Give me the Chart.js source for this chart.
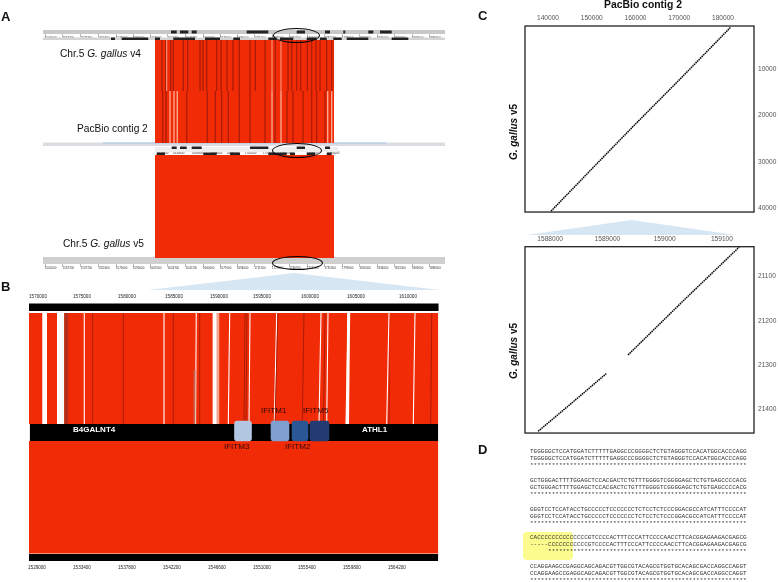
<!DOCTYPE html>
<html lang="en">
<head>
    <meta charset="UTF-8">
    <title>Chicken IFITM locus alignments</title>
    <style>
        html, body { margin: 0; padding: 0; background: #fff; overflow: hidden; }
        #page { position: absolute; left: 0; top: 0; width: 778px; height: 582px; overflow: hidden; filter: blur(0.35px); font-family: "Liberation Sans", Arial, sans-serif; color: #111; }
        #page canvas, .box { position: absolute; }
        .txt { position: absolute; white-space: nowrap; line-height: 1; }
        .panel { font-size: 13px; font-weight: bold; }
        .tri { position: absolute; background: #d6e6f3; clip-path: polygon(50% 0, 100% 100%, 0 100%); }
        .oval { position: absolute; border: 1.6px solid #000; border-radius: 50%; box-sizing: border-box; }
        .gene { font-size: 8px; color: #2b0a08; }
        .seq { position: absolute; left: 530px; font: 6.03px/7px "Liberation Mono", monospace; white-space: pre; color: #333; }
        .rot { position: absolute; white-space: nowrap; font-size: 10px; font-weight: bold; line-height: 1; transform: translate(-50%, -50%) rotate(-90deg); }
    </style>
</head>
<body>
<div id="page">
    <!-- panel A -->
    <div class="txt panel" style="left:1px;top:10px">A</div>
    <canvas id="chartA" width="402" height="248" style="left:43px;top:25px"></canvas>
    <div class="txt" style="left:60px;top:49px;font-size:10.2px">Chr.5 <i>G. gallus</i> v4</div>
    <div class="txt" style="left:77px;top:124px;font-size:10.2px">PacBio contig 2</div>
    <div class="txt" style="left:63px;top:239px;font-size:10.2px">Chr.5 <i>G. gallus</i> v5</div>
    <div class="oval" style="left:273px;top:28px;width:47px;height:15px"></div>
    <div class="oval" style="left:272px;top:143px;width:50px;height:15px"></div>
    <div class="oval" style="left:272px;top:256px;width:51px;height:14px"></div>
    <div class="tri" style="left:148px;top:273px;width:292px;height:17px"></div>

    <!-- panel B -->
    <div class="txt panel" style="left:1px;top:280px">B</div>
    <canvas id="chartB" width="430" height="282" style="left:20px;top:290px"></canvas>
    <div class="txt" style="left:73px;top:426px;font-size:8px;font-weight:bold;color:#fff">B4GALNT4</div>
    <div class="txt" style="left:362px;top:426px;font-size:8px;font-weight:bold;color:#fff">ATHL1</div>
    <div class="txt gene" style="left:261px;top:407px">IFITM1</div>
    <div class="txt gene" style="left:303px;top:407px">IFITM5</div>
    <div class="txt gene" style="left:224px;top:443px">IFITM3</div>
    <div class="txt gene" style="left:285px;top:443px">IFITM2</div>

    <!-- panel C -->
    <div class="txt panel" style="left:478px;top:9px">C</div>
    <div class="txt" style="left:604px;top:0px;font-size:10.4px;font-weight:bold">PacBio contig 2</div>
    <canvas id="chartC1" width="263" height="210" style="left:515px;top:10px"></canvas>
    <canvas id="chartC2" width="263" height="211" style="left:515px;top:230px"></canvas>
    <div class="rot" style="left:514px;top:132px"><i>G. gallus</i> v5</div>
    <div class="rot" style="left:514px;top:351px"><i>G. gallus</i> v5</div>
    <div class="tri" style="left:527px;top:220px;width:209px;height:15px"></div>

    <!-- panel D -->
    <div class="txt panel" style="left:478px;top:443px">D</div>
    <div class="box" style="left:523px;top:532px;width:50px;height:28px;background:#fbfb8e;border-radius:4px"></div>
    <div id="seqs"></div>
</div>

<script src="https://cdn.jsdelivr.net/npm/chart.js"></script>
<script>
    // panel A: positions along the window in kb, dark and light stripes
    const aBlock = [112, 291];
    const aDarkUpper = [119, 122.7, 127.7, 130.3, 140.3, 144.7, 157, 160, 163.7, 173.7, 178, 184, 190, 196.3, 207, 212.3, 222, 232.3, 245, 248.7, 253.7, 257.7, 264.3, 268.7, 273, 277, 283.7, 288.7];
    const aLightUpper = [123.7, 229, 238];
    const aDarkLower = [119.7, 123, 143.7, 164.3, 172.3, 178.7, 185.3, 196.3, 207, 222, 232, 244, 250, 260, 268.7, 273.7, 282];
    const aLightLower = [127, 131, 134.3, 229, 238, 284.7, 288.7];
    const aTrack1Top = [[128, 133.7], [137, 145.3], [148.7, 153.7], [203.7, 225.3], [253.7, 262], [282, 287], [300.3, 302.3], [325.3, 330.3], [337, 348.7]];
    const aTrack1Low = [[68, 72], [78.7, 105.3], [112, 117], [130.3, 152], [162, 177], [190.3, 197], [225.3, 233.7], [237, 250.3], [263.7, 273.7], [277, 283.7], [290.3, 298.7], [303.7, 325.3], [348.7, 365.3]];
    const aTrack2Top = [[128.7, 133.7], [137, 143.7], [148.7, 158.7], [207, 225.3], [253.7, 262], [282, 287]];
    const aTrack2Low = [[113.7, 122], [160.3, 173.7], [187, 197], [225.3, 243.7], [247, 252], [263.7, 272], [283.7, 288.7]];
    const aTicks = [2, 19.7, 37.7, 55.3, 73, 90, 107, 124.7, 142.7, 160, 177, 194, 211.5, 229, 246.5, 264, 281.5, 299, 316.5, 334, 351.5, 369, 386.5];
    const aContigTicks = [114, 130, 149, 168, 184, 202, 220, 237, 264, 285];

    // panel B: chromosome position in kb (upper axis)
    const bTopTickPos = [1569.99, 1574.83, 1579.78, 1584.95, 1589.9, 1594.63, 1599.91, 1604.97, 1610.69];
    const bTopTickLabels = ['1570000', '1575000', '1580000', '1585000', '1590000', '1595000', '1600000', '1605000', '1610000'];
    const bLowTicks = [1529, 1533.4, 1537.8, 1542.2, 1546.6, 1551, 1555.4, 1559.8, 1564.2];
    const bGaps = [[1570.46, 1570.98], [1572.08, 1572.88]];
    const bWhiteTop = [1575.08, 1583.85, 1587.4, 1591.08, 1593.31, 1596.25, 1601.12, 1601.89, 1604.12, 1608.6, 1611.46];
    const bWhiteLow = [1575.08, 1583.85, 1587.32, 1590.92, 1593.2, 1595.98, 1600.9, 1601.75, 1603.87, 1608.35, 1611.27];
    const bDarkTop = [1576, 1579.37, 1584.87, 1587.78, 1592.76, 1592.98, 1596.39, 1599.25, 1601.56, 1608.77, 1613.3];
    const bDarkLow = [1576, 1579.37, 1584.87, 1587.78, 1592.65, 1592.87, 1596.06, 1599.06, 1601.4, 1608.6, 1613.19];
    const bWideWhite = [1589.2, 1589.65];
    const bPink = [1589.65, 1589.93];
    const bBrown = [1572.88, 1573.32];
    const geneNames = ['IFITM3', 'IFITM1', 'IFITM2', 'IFITM5'];
    const geneCentres = [1592.54, 1596.61, 1598.81, 1600.95];
    const geneWidths = [17, 18, 16, 19];
    const geneColours = ['#b3c6e2', '#7f9fd0', '#2b5797', '#223b72'];

    // panel C: dot plots
    const c1X = [140700, 150000, 160000, 170000, 181800];
    const c1Y = [40650, 31560, 21840, 12330, 910];
    const c1TopTicks = [140000, 150000, 160000, 170000, 180000];
    const c1SideTicks = [10000, 20000, 30000, 40000];
    const c2XLeft = [158779, 158838, 158898];
    const c2YLeft = [21449, 21385, 21319];
    const c2XRight = [158936, 159034, 159130];
    const c2YRight = [21277, 21153, 21034];
    const c2TopTicks = [158800, 158900, 159000, 159100];
    const c2TopLabels = ['1588000', '1589000', '159000', '159100'];
    const c2SideTicks = [21100, 21200, 21300, 21400];

    // panel D: alignment blocks
    const seqRowsA = [
        'TGGGGGCTCCATGGATCTTTTTGAGGCCCGGGGCTCTGTAGGGTCCACATGGCACCCAGG',
        'GCTGGGACTTTTGGAGCTCCACGACTCTGTTTGGGGTCGGGGAGCTCTGTGAGCCCCACG',
        'GGGTCCTCCATACCTGCCCCCTCCCCCCCTCTCCTCTCCCGGACGCCATCATTTCCCCAT',
        'CACCCCCCCCCCCCCCGTCCCCACTTTCCCATTCCCCAACCTTCACGGAGAAGACGAGCG',
        'CCAGGAAGCCGAGGCAGCAGACGTTGGCGTACAGCGTGGTGCACAGCGACCAGGCCAGGT'
    ];
    const seqRowsB = [
        'TGGGGGCTCCATGGATCTTTTTGAGGCCCGGGGCTCTGTAGGGTCCACATGGCACCCAGG',
        'GCTGGGACTTTTGGAGCTCCACGACTCTGTTTGGGGTCGGGGAGCTCTGTGAGCCCCACG',
        'GGGTCCTCCATACCTGCCCCCTCCCCCCCTCTCCTCTCCCGGACGCCATCATTTCCCCAT',
        '-----CCCCCCCCCCCGTCCCCACTTTCCCATTCCCCAACCTTCACGGAGAAGACGAGCG',
        'CCAGGAAGCCGAGGCAGCAGACGTTGGCGTACAGCGTGGTGCACAGCGACCAGGCCAGGT'
    ];
    const seqTops = [448, 477, 506, 534, 563];

    const RED = '#f12b06';
    const DARK = '#a61c08';
    const LIGHT = '#f7a58c';
    const SAND = '#c9624a';

    // filled rectangle in data values, mapped through the chart scales
    function rect(x0, x1, y0, y1, colour, xTop, xTop2) {
        return {
            type: 'line', xAxisID: 'x', yAxisID: 'y',
            data: [{x: xTop === undefined ? x0 : xTop, y: y0}, {x: xTop2 === undefined ? x1 : xTop2, y: y0}, {x: x1, y: y1}, {x: x0, y: y1}],
            fill: 'shape', backgroundColor: colour, borderWidth: 0, pointRadius: 0, tension: 0
        };
    }

    function ordered(list) {
        // first dataset is painted at the back
        list.forEach((d, i) => { d.order = -i; });
        return list;
    }

    const noAxis = {type: 'linear', display: false};
    const noGrid = {display: false, drawTicks: false};
    const baseOptions = {
        responsive: false, animation: false, events: [],
        plugins: {legend: {display: false}, tooltip: {enabled: false}}
    };

    function tinyAxis(rowValue, ticks) {
        return {
            type: 'linear', axis: 'x', min: 0, max: 402, position: {y: rowValue},
            afterBuildTicks: axis => { axis.ticks = ticks.map(v => ({value: v})); },
            grid: {drawOnChartArea: false, tickLength: 3, color: '#777', tickWidth: 0.5},
            border: {display: false},
            ticks: {
                autoSkip: false, maxRotation: 0, minRotation: 0, align: 'start', padding: -1,
                font: {size: 2.9, family: 'Liberation Sans'}, color: '#333',
                callback: v => String(1500000 + Math.round(v * 1000))
            }
        };
    }

    // ---- panel A
    const aSets = [];
    aSets.push(rect(0, 402, 30, 34, '#c8c8c8'));
    aSets.push(rect(0, 402, 37.5, 40, '#d4d4d4'));
    aSets.push(rect(0, 402, 142.5, 146, '#d9dde2'));
    aSets.push(rect(60, 343, 142.6, 143.6, '#a9c8e8'));
    aSets.push(rect(112, 295, 147, 152, '#efefef'));
    aSets.push(rect(0, 402, 257, 264, '#cfcfcf'));
    aSets.push(rect(aBlock[0], aBlock[1], 40, 143, RED));
    aSets.push(rect(aBlock[0], aBlock[1], 155, 258, RED));
    aDarkUpper.forEach(v => aSets.push(rect(v - 0.6, v + 0.6, 40, 91, DARK)));
    aLightUpper.forEach(v => aSets.push(rect(v - 0.5, v + 0.5, 40, 91, LIGHT)));
    aDarkLower.forEach(v => aSets.push(rect(v - 0.6, v + 0.6, 91, 143, DARK)));
    aLightLower.forEach(v => aSets.push(rect(v - 0.7, v + 0.7, 91, 143, LIGHT)));
    aTrack1Top.forEach(r => aSets.push(rect(r[0], r[1], 30.5, 33.5, '#222')));
    aTrack1Low.forEach(r => aSets.push(rect(r[0], r[1], 37.5, 40, '#222')));
    aTrack2Top.forEach(r => aSets.push(rect(r[0], r[1], 146.5, 149, '#222')));
    aTrack2Low.forEach(r => aSets.push(rect(r[0], r[1], 152.5, 155, '#222')));

    new Chart(document.getElementById('chartA'), {
        type: 'line',
        data: {datasets: ordered(aSets)},
        options: {
            ...baseOptions,
            scales: {
                x: {type: 'linear', display: false, min: 0, max: 402},
                y: {...noAxis, min: 25, max: 273, reverse: true},
                t1: tinyAxis(34, aTicks),
                t2: tinyAxis(149, aContigTicks),
                t3: tinyAxis(264, aTicks)
            }
        }
    });

    // ---- panel B
    const bSets = [];
    bSets.push(rect(1569.0, 1614.05, 303.5, 311, '#000'));
    bSets.push(rect(1569.0, 1614.0, 313, 424, RED));
    bSets.push(rect(1569.0, 1614.0, 441, 553.5, RED));
    bSets.push(rect(1569.1, 1614.0, 424, 441, '#000'));
    bSets.push(rect(1569.0, 1614.0, 554, 561, '#000'));
    bGaps.forEach(r => bSets.push(rect(r[0], r[1], 313, 424, '#fff')));
    bSets.push(rect(bBrown[0], bBrown[1], 313, 424, '#b5301a'));
    bSets.push(rect(bPink[0], bPink[1], 313, 424, LIGHT));
    bSets.push(rect(bWideWhite[0], bWideWhite[1], 313, 424, '#fff'));
    bWhiteTop.forEach((v, i) => bSets.push(rect(bWhiteLow[i] - 0.06, bWhiteLow[i] + 0.06, 313, 424, '#fff', v - 0.06, v + 0.06)));
    bDarkTop.forEach((v, i) => bSets.push(rect(bDarkLow[i] - 0.05, bDarkLow[i] + 0.05, 313, 424, DARK, v - 0.05, v + 0.05)));
    // the last wide gap and the sand band by the fifth white stripe
    bSets.push(rect(1603.87, 1604.2, 313, 424, '#fff', 1604.0, 1604.33));
    bSets.push(rect(1587.1, 1587.3, 370, 424, SAND));
    geneCentres.forEach((c, i) => bSets.push({
        type: 'bar', label: geneNames[i], xAxisID: 'x', yAxisID: 'y',
        data: [{x: c, y: [421, 441]}],
        backgroundColor: geneColours[i], borderRadius: 3, borderSkipped: false, barThickness: geneWidths[i], grouped: false
    }));

    new Chart(document.getElementById('chartB'), {
        type: 'line',
        data: {datasets: ordered(bSets)},
        options: {
            ...baseOptions,
            layout: {padding: {left: 9, right: 10}},
            scales: {
                x: {
                    // the bar datasets would otherwise switch offset on
                    type: 'linear', position: 'top', offset: false, min: 1569.0, max: 1614.21,
                    afterBuildTicks: axis => { axis.ticks = bTopTickPos.map(v => ({value: v})); },
                    afterFit: axis => { axis.height = 13; },
                    grid: noGrid, border: {display: false},
                    ticks: {autoSkip: false, maxRotation: 0, padding: 4, color: '#222', font: {size: 4.6, family: 'Liberation Sans'},
                        callback: (v, i) => bTopTickLabels[i]}
                },
                xLow: {
                    type: 'linear', axis: 'x', position: 'bottom', min: 1528.22, max: 1568.41,
                    afterBuildTicks: axis => { axis.ticks = bLowTicks.map(v => ({value: v})); },
                    afterFit: axis => { axis.height = 10; },
                    grid: noGrid, border: {display: false},
                    ticks: {autoSkip: false, maxRotation: 0, padding: 3, color: '#222', font: {size: 4.6, family: 'Liberation Sans'},
                        callback: v => String(Math.round(v * 1000))}
                },
                y: {...noAxis, min: 303, max: 562, reverse: true}
            }
        }
    });

    // ---- panel C
    const framePlugin = {
        id: 'frame',
        afterDraw(chart) {
            const a = chart.chartArea, ctx = chart.ctx;
            ctx.save();
            ctx.strokeStyle = '#222';
            ctx.lineWidth = 1.3;
            ctx.strokeRect(a.left, a.top, a.width, a.height);
            ctx.restore();
        }
    };

    function dotLine(xs, ys) {
        return {data: xs.map((x, i) => ({x: x, y: ys[i]})), borderColor: '#000', borderWidth: 1.5, borderDash: [1.5, 0.7], pointRadius: 0, tension: 0, showLine: true};
    }

    function dotPlot(id, sets, xMin, xMax, yMin, yMax, topTicks, topLabels, sideTicks, topHeight) {
        new Chart(document.getElementById(id), {
            type: 'scatter',
            data: {datasets: sets},
            options: {
                ...baseOptions,
                layout: {padding: {left: 10, bottom: 4}},
                scales: {
                    x: {
                        type: 'linear', position: 'top', min: xMin, max: xMax,
                        afterBuildTicks: axis => { axis.ticks = topTicks.map(v => ({value: v})); },
                        afterFit: axis => { axis.height = topHeight; },
                        grid: noGrid, border: {display: false},
                        ticks: {autoSkip: false, maxRotation: 0, padding: 4, color: '#555', font: {size: 6.6, family: 'Liberation Sans'},
                            callback: (v, i) => topLabels ? topLabels[i] : String(v)}
                    },
                    y: {
                        type: 'linear', position: 'right', reverse: true, min: yMin, max: yMax,
                        afterBuildTicks: axis => { axis.ticks = sideTicks.map(v => ({value: v})); },
                        afterFit: axis => { axis.width = 24; },
                        grid: noGrid, border: {display: false},
                        ticks: {autoSkip: false, padding: 4, color: '#555', font: {size: 6.6, family: 'Liberation Sans'},
                            callback: v => String(v)}
                    }
                }
            },
            plugins: [framePlugin]
        });
    }

    dotPlot('chartC1', [dotLine(c1X, c1Y)], 134743, 187086, 698, 40846, c1TopTicks, null, c1SideTicks, 16);
    dotPlot('chartC2', [dotLine(c2XLeft, c2YLeft), dotLine(c2XRight, c2YRight)], 158756, 159156, 21033, 21453, c2TopTicks, c2TopLabels, c2SideTicks, 16.7);

    // ---- panel D
    const seqHost = document.getElementById('seqs');
    seqRowsA.forEach((row, i) => {
        const stars = row === seqRowsB[i] ? '*'.repeat(row.length)
            : ' '.repeat(5) + '*'.repeat(row.length - 5);
        const el = document.createElement('div');
        el.className = 'seq';
        el.style.top = seqTops[i] + 'px';
        el.textContent = row + '\n' + seqRowsB[i] + '\n' + stars;
        seqHost.appendChild(el);
    });
</script>
</body>
</html>
